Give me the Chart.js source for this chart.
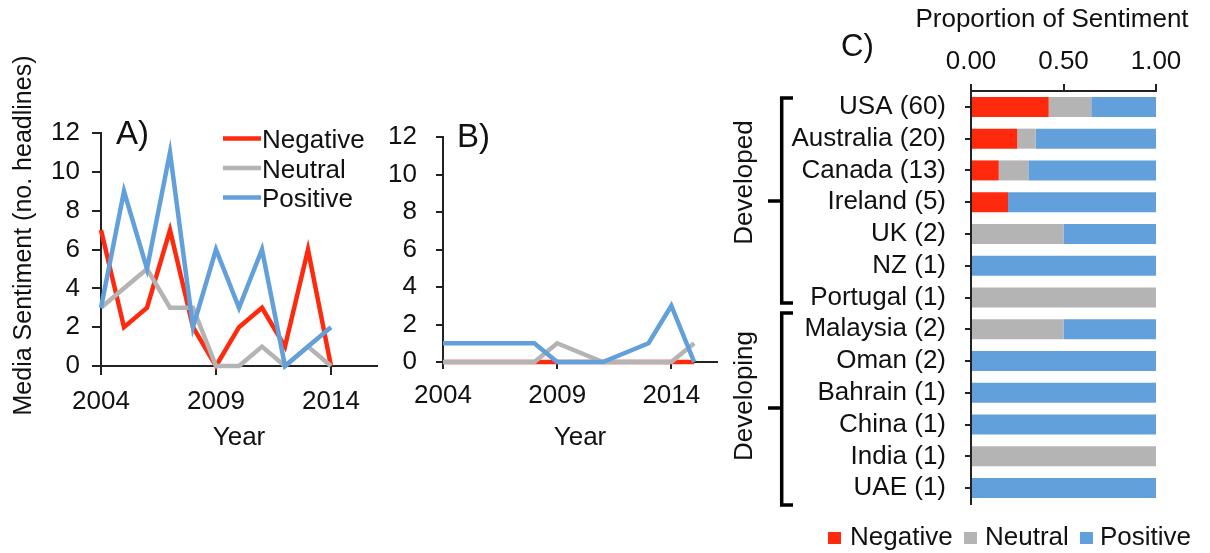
<!DOCTYPE html>
<html>
<head>
<meta charset="utf-8">
<title>Media sentiment</title>
<script src="https://cdn.jsdelivr.net/npm/chart.js@4.4.1/dist/chart.umd.min.js"></script>
<style>
  html, body { margin: 0; padding: 0; background: #fff; }
  #wrap { position: relative; width: 1210px; height: 553px; overflow: hidden; }
  canvas { position: absolute; top: 0; }
  #chartA { left: 0; }
  #chartB { left: 380px; }
  #chartC { left: 720px; }
</style>
</head>
<body>
<div id="wrap">
  <canvas id="chartA" width="380" height="470"></canvas>
  <canvas id="chartB" width="340" height="470"></canvas>
  <canvas id="chartC" width="490" height="553"></canvas>
</div>
<script>
// series names and colours shared by all three panels
const seriesNames = ['Negative', 'Neutral', 'Positive'];
const seriesColors = ['#ff2a0e', '#b4b4b4', '#62a0dc'];

// Panel A - headlines per year
const yearsA = [2004, 2005, 2006, 2007, 2008, 2009, 2010, 2011, 2012, 2013, 2014];
const negativeA = [7, 2, 3, 7, 2, 0, 2, 3, 1, 6, 0];
const neutralA = [3, 4, 5, 3, 3, 0, 0, 1, 0, 1, 0];
const positiveA = [3, 9, 5, 11, 2, 6, 3, 6, 0, 1, 2];

// Panel B - headlines per year (gaps where no value is plotted)
const yearsB = [2004, 2005, 2006, 2007, 2008, 2009, 2010, 2011, 2012, 2013, 2014, 2015];
const negativeB = [0, 0, 0, 0, 0, 0, 0, 0, 0, 0, 0, 0];
const neutralB = [0, 0, 0, 0, 0, 1, null, 0, 0, 0, 0, 1];
const positiveB = [1, 1, 1, 1, 1, 0, 0, 0, null, 1, 3, 0];

const yearTicks = [2004, 2009, 2014];
const countTicks = [0, 2, 4, 6, 8, 10, 12];

// Panel C - proportion of sentiment by country
const countries = ['USA (60)', 'Australia (20)', 'Canada (13)', 'Ireland (5)', 'UK (2)', 'NZ (1)', 'Portugal (1)',
                   'Malaysia (2)', 'Oman (2)', 'Bahrain (1)', 'China (1)', 'India (1)', 'UAE (1)'];
const negativeC = [0.42, 0.25, 0.15, 0.20, 0, 0, 0, 0, 0, 0, 0, 0, 0];
const neutralC = [0.23, 0.10, 0.16, 0, 0.50, 0, 1, 0.50, 0, 0, 0, 1, 0];
const positiveC = [0.35, 0.65, 0.69, 0.80, 0.50, 1, 0, 0.50, 1, 1, 1, 0, 1];
const proportionTicks = [0, 0.5, 1];

const groupNames = ['Developed', 'Developing'];

const textColor = '#111';
const axisColor = '#222';
const fontFamily = "'Liberation Sans', Arial, sans-serif";

Chart.defaults.font.family = fontFamily;
Chart.defaults.font.size = 26;
Chart.defaults.color = textColor;

// draws free text, lines and boxes (panel letters, legends, brackets)
const notesPlugin = {
    id: 'notes',
    afterDraw(chart, args, opts) {
        const ctx = chart.ctx;
        ctx.save();
        (opts.lines || []).forEach((l) => {
            ctx.strokeStyle = l.color;
            ctx.lineWidth = l.width;
            ctx.lineJoin = 'miter';
            ctx.beginPath();
            l.points.forEach((p, i) => (i ? ctx.lineTo(p[0], p[1]) : ctx.moveTo(p[0], p[1])));
            ctx.stroke();
        });
        (opts.boxes || []).forEach((b) => {
            ctx.fillStyle = b.color;
            ctx.fillRect(b.x, b.y, b.w, b.h);
        });
        (opts.texts || []).forEach((t) => {
            ctx.save();
            ctx.translate(t.x, t.y);
            if (t.rotate) ctx.rotate(t.rotate);
            ctx.font = (t.size || 26) + 'px ' + fontFamily;
            ctx.fillStyle = textColor;
            ctx.textAlign = t.align || 'left';
            ctx.textBaseline = 'middle';
            ctx.fillText(t.text, 0, 0);
            ctx.restore();
        });
        ctx.restore();
    },
};

function lineDatasets(years, lists, spanGaps) {
    return lists.map((values, i) => ({
        label: seriesNames[i],
        data: years.map((yr, k) => ({ x: yr, y: values[k] })),
        borderColor: seriesColors[i],
        backgroundColor: seriesColors[i],
        borderWidth: 4.5,
        pointRadius: 0,
        tension: 0,
        spanGaps: spanGaps,
        clip: false,
        order: 3 - i,
    }));
}

function lineOptions(cfg) {
    return {
        responsive: false,
        animation: false,
        events: [],
        layout: { padding: { top: cfg.top, right: cfg.right, bottom: 0, left: 0 } },
        scales: {
            x: {
                type: 'linear',
                min: 2004,
                max: 2016,
                afterBuildTicks: (axis) => { axis.ticks = yearTicks.map((v) => ({ value: v })); },
                afterFit: (axis) => { axis.height = cfg.xHeight; },
                ticks: { padding: 11, maxRotation: 0, callback: (v) => String(v) },
                grid: { drawOnChartArea: false, drawTicks: true, tickLength: cfg.tick, color: axisColor, lineWidth: 2 },
                border: { display: true, color: axisColor, width: 2 },
                title: { display: true, text: 'Year', padding: { top: 0, bottom: 17 } },
            },
            y: {
                min: 0,
                max: 12,
                afterBuildTicks: (axis) => { axis.ticks = countTicks.map((v) => ({ value: v })); },
                afterFit: (axis) => { axis.width = cfg.yWidth; },
                ticks: { padding: cfg.yPad },
                grid: { drawOnChartArea: false, drawTicks: true, tickLength: cfg.tick, color: axisColor, lineWidth: 2 },
                border: { display: true, color: axisColor, width: 2 },
            },
        },
        plugins: {
            legend: { display: false },
            tooltip: { enabled: false },
            notes: cfg.notes,
        },
    };
}

// Panel A
const legendRowsA = [141, 170.5, 200];
new Chart(document.getElementById('chartA'), {
    type: 'line',
    data: { datasets: lineDatasets(yearsA, [negativeA, neutralA, positiveA], false) },
    options: lineOptions({
        top: 133, right: 3, xHeight: 104, yWidth: 101, yPad: 12, tick: 9,
        notes: {
            lines: seriesNames.map((n, i) => ({
                color: seriesColors[i], width: 4.5,
                points: [[223, legendRowsA[i] - 2.5], [261, legendRowsA[i] - 2.5]],
            })),
            texts: [
                { text: 'Media Sentiment (no. headlines)', x: 24, y: 235.5, rotate: -Math.PI / 2, align: 'center', size: 25 },
                { text: 'A)', x: 116, y: 135, size: 33 },
            ].concat(seriesNames.map((n, i) => ({ text: n, x: 262, y: legendRowsA[i] }))),
        },
    }),
    plugins: [notesPlugin],
});

// Panel B
new Chart(document.getElementById('chartB'), {
    type: 'line',
    data: { datasets: lineDatasets(yearsB, [negativeB, neutralB, positiveB], true) },
    options: lineOptions({
        top: 137, right: 3, xHeight: 108, yWidth: 63, yPad: 19, tick: 7,
        notes: {
            texts: [{ text: 'B)', x: 77, y: 138, size: 33 }],
        },
    }),
    plugins: [notesPlugin],
});

// Panel C
const bracketX = 61.7;
new Chart(document.getElementById('chartC'), {
    type: 'bar',
    data: {
        labels: countries,
        datasets: [negativeC, neutralC, positiveC].map((values, i) => ({
            label: seriesNames[i],
            data: values,
            backgroundColor: seriesColors[i],
            borderWidth: 0,
            barPercentage: 0.63,
            categoryPercentage: 1,
        })),
    },
    options: {
        indexAxis: 'y',
        responsive: false,
        animation: false,
        events: [],
        layout: { padding: { top: 0, right: 54, bottom: 49, left: 0 } },
        scales: {
            x: {
                position: 'top',
                stacked: true,
                min: 0,
                max: 1,
                afterBuildTicks: (axis) => { axis.ticks = proportionTicks.map((v) => ({ value: v })); },
                afterFit: (axis) => { axis.height = 91; },
                ticks: { padding: 7, maxRotation: 0, callback: (v) => Number(v).toFixed(2) },
                grid: { drawOnChartArea: false, drawTicks: true, tickLength: 7, color: axisColor, lineWidth: 2 },
                border: { display: true, color: axisColor, width: 2 },
            },
            y: {
                stacked: true,
                afterFit: (axis) => { axis.width = 251; },
                ticks: { padding: 19, autoSkip: false },
                grid: { offset: false, drawOnChartArea: false, drawTicks: true, tickLength: 6, color: axisColor, lineWidth: 2 },
                border: { display: true, color: axisColor, width: 2 },
            },
        },
        plugins: {
            legend: { display: false },
            tooltip: { enabled: false },
            notes: {
                lines: [
                    { color: '#000', width: 3.5, points: [[73, 98], [bracketX, 98], [bracketX, 303], [73, 303]] },
                    { color: '#000', width: 3.5, points: [[48, 201], [bracketX, 201]] },
                    { color: '#000', width: 3.5, points: [[73, 313], [bracketX, 313], [bracketX, 505], [73, 505]] },
                    { color: '#000', width: 3.5, points: [[48, 408], [bracketX, 408]] },
                ],
                boxes: [108, 244, 360].map((x, i) => ({ x: x, y: 532, w: 13, h: 12, color: seriesColors[i] })),
                texts: [
                    { text: 'Proportion of Sentiment', x: 332, y: 20, align: 'center' },
                    { text: 'C)', x: 121, y: 47, size: 31 },
                    { text: groupNames[0], x: 25, y: 182.5, rotate: -Math.PI / 2, align: 'center' },
                    { text: groupNames[1], x: 25, y: 396, rotate: -Math.PI / 2, align: 'center' },
                ].concat([130, 265, 380].map((x, i) => ({ text: seriesNames[i], x: x, y: 538 }))),
            },
        },
    },
    plugins: [notesPlugin],
});
</script>
</body>
</html>
